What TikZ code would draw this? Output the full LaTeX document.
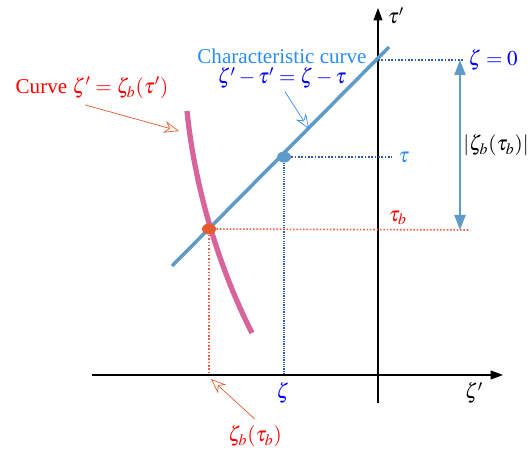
\documentclass[tikz,border=0pt]{standalone}
\usepackage{mathptmx}
\usepackage{fontspec}
\setmainfont{Liberation Serif}
\usepackage{xcolor}
\usetikzlibrary{shapes.geometric, arrows.meta, positioning, calc}
\definecolor{charblue}{RGB}{95,155,200}
\definecolor{lightblue}{RGB}{40,140,245}
\definecolor{dotblue}{RGB}{45,95,170}
\definecolor{curvepink}{RGB}{215,100,155}
\definecolor{ptorange}{RGB}{228,92,45}
\definecolor{dashred}{RGB}{235,95,70}
\tikzset{
  % axis and guide styles
  axis/.style={-{Triangle[length=2.5mm,width=1.8mm]}, line width=0.7pt, black},
  guide/.style={densely dotted, line width=0.9pt, #1},
  guide/.default={dotblue},
  pointer/.style={-{Stealth[open,length=3mm,width=2.4mm]}, line width=0.4pt},
  lbl/.style={font=\large, inner sep=1pt},
}
\begin{document}
\begin{tikzpicture}[x=0.02cm, y=-0.02cm,
    dot/.style={ellipse, minimum width=0.28cm, minimum height=0.22cm, inner sep=0pt, fill=#1},
  ]
    \useasboundingbox (0,0) rectangle (529,449);

    % Axes
    \coordinate (xl) at (92,375);
    \coordinate (xr) at (503,375);
    \coordinate (yb) at (378,403);
    \coordinate (yt) at (378,8);
    \draw[axis] (xl) -- (xr);
    \draw[axis] (yb) -- (yt);
    \node[lbl] (taup) at (396,16) {$\tau'$};
    \node[lbl] (zetap) at (474,393) {$\zeta'$};

    % Characteristic line and boundary curve
    \coordinate (cs) at (172,266);
    \coordinate (ce) at (389,47);
    \draw[charblue, line width=2pt] (cs) -- (ce);
    \coordinate (bs) at (187,111);
    \coordinate (be) at (252,333);
    \draw[curvepink, line width=3pt] (bs) .. controls (195,190) and (220,270) .. (be);

    % Points
    \node[dot=charblue] (p) at (284,157) {};
    \node[dot=ptorange] (pb) at (209,229) {};

    % Guide lines
    \coordinate (z0l) at (378,60);
    \coordinate (z0r) at (463,60);
    \coordinate (tr) at (392,157);
    \coordinate (tbr) at (470,230);
    \coordinate (zx) at (284,373);
    \coordinate (zbx) at (209,372);
    \draw[guide] (z0l) -- (z0r);
    \draw[guide] (p) -- (tr);
    \draw[guide, line width=1.3pt, dash pattern=on 0.7pt off 0.6pt] (p) -- (zx);
    \draw[guide=dashred] (pb) -- (tbr);
    \draw[guide=dashred] (pb) -- (zbx);

    % Labels on the guides
    \node[lbl, text=blue] (zeta0) at (493,60) {$\zeta=0$};
    \node[lbl, text=lightblue] (tau) at (404,157) {$\tau$};
    \node[lbl, text=red] (taub) at (398,218) {$\tau_b$};
    \node[lbl, text=blue] (zeta) at (283,393) {$\zeta$};
    \node[lbl] (gap) at (496,145) {$|\zeta_b(\tau_b)|$};

    % Distance arrow
    \draw[{Triangle[length=3mm,width=2.2mm]}-{Triangle[length=3mm,width=2.2mm]}, charblue, line width=1.2pt]
      (460,60) -- (460,230);

    % Annotations
    \node[lbl, text=red] (curvelbl) at (92,88) {Curve $\zeta'=\zeta_b(\tau')$};
    \coordinate (curvehit) at (179,131);
    \draw[pointer, ptorange] ($(curvelbl.south)+(-7,4)$) -- (curvehit);

    \node[lbl, text=lightblue] (charlbl) at (282,56) {Characteristic curve};
    \node[lbl, text=blue, below=0pt of charlbl] (chareq) {$\zeta'-\tau'=\zeta-\tau$};
    \coordinate (charhit) at (309,129);
    \draw[pointer, lightblue!80!charblue] ($(chareq.south)+(3,1)$) -- (charhit);

    \node[lbl, text=red] (zbtb) at (255,436) {$\zeta_b(\tau_b)$};
    \coordinate (zbhit) at (211,379);
    \draw[pointer, ptorange] ($(zbtb.north)+(0,-4)$) -- (zbhit);
  \end{tikzpicture}
\end{document}
